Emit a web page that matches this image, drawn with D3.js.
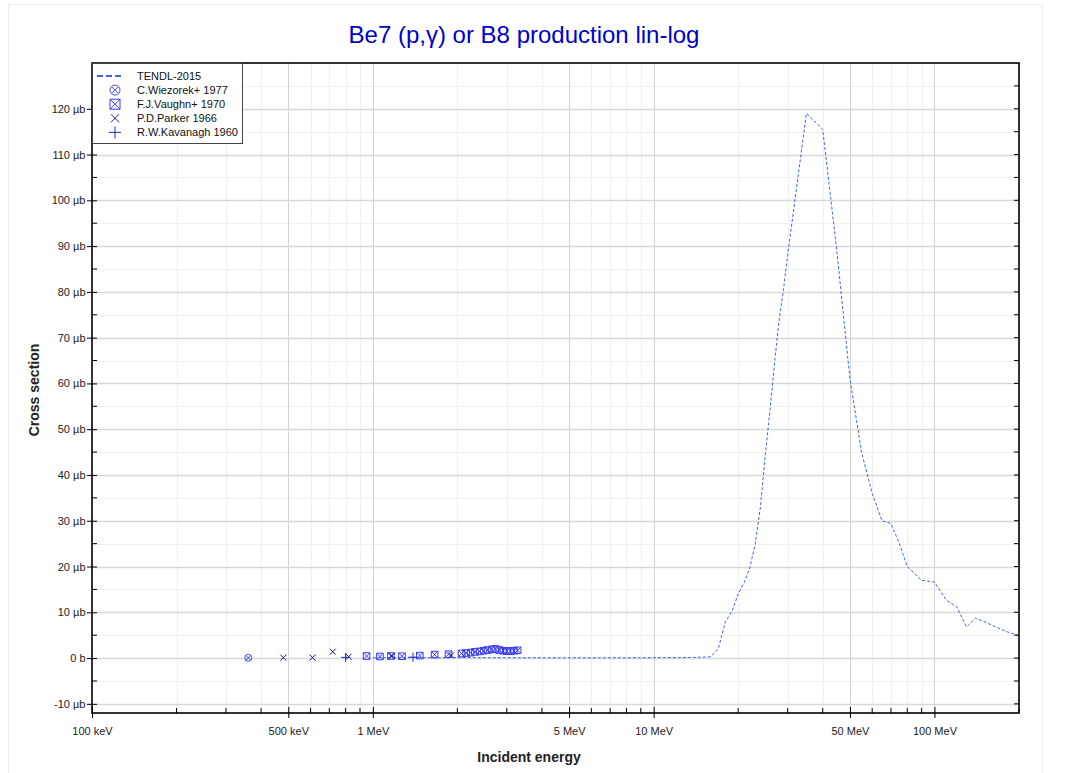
<!DOCTYPE html>
<html>
<head>
<meta charset="utf-8">
<script src="https://cdn.jsdelivr.net/npm/d3@7"></script>
<style>
    body { margin: 0; background: #fff; }
    text { font-family: Arial, "Liberation Sans", sans-serif; }
</style>
</head>
<body>
<script>
const svgWidth = 1067;
const svgHeight = 773;
const plotLeft = 92, plotRight = 1019, plotTop = 63, plotBottom = 713;

// TENDL-2015 evaluation (energy in MeV, cross section in µb)
const tendlEnergy = [1.0, 1.5, 2, 3, 4, 5, 6, 8, 10, 12, 14, 15, 16, 17, 18, 19, 20, 21, 22, 23, 24, 25, 26, 27, 28, 29, 30,
    35, 40, 45, 50, 55, 60, 65, 70, 75, 80, 90, 100, 110, 120, 130, 140, 150, 160, 180, 200];
const tendlXs = [0.08, 0.1, 0.1, 0.08, 0.07, 0.06, 0.06, 0.06, 0.08, 0.1, 0.15, 0.2, 0.3, 2.1, 7.9, 10.2, 14.0, 16.5, 19.7, 25.0, 33.0, 44.5, 54.5, 65.0, 74.0, 80.5, 88.0,
    119.0, 115.5, 88.5, 61.0, 45.0, 36.0, 30.0, 29.4, 25.0, 20.0, 17.0, 16.6, 12.7, 11.2, 6.8, 8.7, 8.0, 7.2, 5.8, 4.9];

// experimental points
const wiezorekEnergy = [0.36];
const wiezorekXs = [0.05];

const vaughnEnergy = [0.95, 1.06, 1.16, 1.27, 1.47, 1.66, 1.86, 2.07, 2.15, 2.23, 2.31, 2.40, 2.48, 2.56, 2.65, 2.73, 2.82, 2.91, 3.00, 3.09, 3.18, 3.28];
const vaughnXs = [0.45, 0.35, 0.45, 0.4, 0.55, 0.75, 0.85, 1.0, 1.1, 1.2, 1.35, 1.45, 1.6, 1.75, 1.9, 2.0, 1.75, 1.6, 1.5, 1.55, 1.6, 1.7];

const parkerEnergy = [0.48, 0.61, 0.72, 0.82, 1.17, 1.90];
const parkerXs = [0.1, 0.1, 1.4, 0.3, 0.5, 0.6];

const kavanaghEnergy = [0.80, 1.39];
const kavanaghXs = [0.15, 0.2];

// axis ticks
const xTickValues = [0.1, 0.5, 1, 5, 10, 50, 100];
const xTickLabels = ["100 keV", "500 keV", "1 MeV", "5 MeV", "10 MeV", "50 MeV", "100 MeV"];
const yTickValues = [-10, 0, 10, 20, 30, 40, 50, 60, 70, 80, 90, 100, 110, 120];
const yTickLabels = ["-10 µb", "0 b", "10 µb", "20 µb", "30 µb", "40 µb", "50 µb", "60 µb", "70 µb", "80 µb", "90 µb", "100 µb", "110 µb", "120 µb"];

const legendLabels = ["TENDL-2015", "C.Wiezorek+ 1977", "F.J.Vaughn+ 1970", "P.D.Parker 1966", "R.W.Kavanagh 1960"];

const tendlColor = "#3f64e6";
const wiezorekColor = "#4b4bff";
const vaughnColor = "#3a3af0";
const parkerColor = "#14148c";
const kavanaghColor = "#2323c8";

const svg = d3.select("body").append("svg").attr("width", svgWidth).attr("height", svgHeight);

svg.append("rect")
    .attr("x", 8.5).attr("y", 4.5)
    .attr("width", 1034).attr("height", 780)
    .attr("fill", "#fff")
    .attr("stroke", "#eeeeee");

const x = d3.scaleLog().domain([0.1, 200]).range([plotLeft, plotRight]);
const y = d3.scaleLinear().domain([-12, 130]).range([plotBottom, plotTop]);

// every 1..9 step of each decade
const xAllTicks = [];
[0.1, 1, 10, 100].forEach(function (decade) {
    for (let k = 1; k <= 9; k++) {
        const v = +(k * decade).toPrecision(3);
        if (v <= 200) xAllTicks.push(v);
    }
});
const isMajorX = v => xTickValues.some(t => Math.abs(t - v) < 1e-9);
const xMinorTicks = xAllTicks.filter(v => !isMajorX(v));
const yMinorTicks = d3.range(-10, 130, 5).filter(v => v % 10 !== 0);

// grid
const grid = svg.append("g");
grid.selectAll(".xminor").data(xMinorTicks).join("line")
    .attr("x1", d => Math.round(x(d)) + 0.5).attr("x2", d => Math.round(x(d)) + 0.5)
    .attr("y1", plotTop).attr("y2", plotBottom)
    .attr("stroke", "#f0f0f0");
grid.selectAll(".yminor").data(yMinorTicks).join("line")
    .attr("x1", plotLeft).attr("x2", plotRight)
    .attr("y1", d => Math.round(y(d)) + 0.5).attr("y2", d => Math.round(y(d)) + 0.5)
    .attr("stroke", "#f0f0f0");
grid.selectAll(".xmajor").data(xTickValues.slice(1)).join("line")
    .attr("x1", d => Math.round(x(d)) + 0.5).attr("x2", d => Math.round(x(d)) + 0.5)
    .attr("y1", plotTop).attr("y2", plotBottom)
    .attr("stroke", "#d2d2d2");
grid.selectAll(".ymajor").data(yTickValues).join("line")
    .attr("x1", plotLeft).attr("x2", plotRight)
    .attr("y1", d => Math.round(y(d)) + 0.5).attr("y2", d => Math.round(y(d)) + 0.5)
    .attr("stroke", "#d8d8d8")
    .attr("stroke-width", 1.5);

svg.append("clipPath").attr("id", "plot-clip")
    .append("rect")
    .attr("x", plotLeft).attr("y", plotTop)
    .attr("width", plotRight - plotLeft).attr("height", plotBottom - plotTop);

const plot = svg.append("g").attr("clip-path", "url(#plot-clip)");

// evaluated curve
const tendl = tendlEnergy.map((e, i) => [e, tendlXs[i]]);
plot.append("path")
    .datum(tendl)
    .attr("d", d3.line().x(d => x(d[0])).y(d => y(d[1])))
    .attr("fill", "none")
    .attr("stroke", tendlColor)
    .attr("stroke-width", 1)
    .attr("stroke-dasharray", "3,2");

// marker shapes
function circleX(cx, cy, r) {
    const k = r * 0.7071;
    return `M${cx + r},${cy}A${r},${r} 0 1,1 ${cx - r},${cy}A${r},${r} 0 1,1 ${cx + r},${cy}` +
        `M${cx - k},${cy - k}L${cx + k},${cy + k}M${cx - k},${cy + k}L${cx + k},${cy - k}`;
}
function boxX(cx, cy, r) {
    return `M${cx - r},${cy - r}h${2 * r}v${2 * r}h${-2 * r}Z` +
        `M${cx - r},${cy - r}L${cx + r},${cy + r}M${cx - r},${cy + r}L${cx + r},${cy - r}`;
}
function cross(cx, cy, r) {
    return `M${cx - r},${cy - r}L${cx + r},${cy + r}M${cx - r},${cy + r}L${cx + r},${cy - r}`;
}
function plus(cx, cy, r) {
    return `M${cx - r},${cy}L${cx + r},${cy}M${cx},${cy - r}L${cx},${cy + r}`;
}

function drawPoints(energy, xs, shape, size, color) {
    plot.append("g").selectAll("path")
        .data(energy.map((e, i) => [e, xs[i]]))
        .join("path")
        .attr("d", d => shape(x(d[0]), y(d[1]), size))
        .attr("fill", "none")
        .attr("stroke", color)
        .attr("stroke-width", 1);
}

drawPoints(vaughnEnergy, vaughnXs, boxX, 3.3, vaughnColor);
drawPoints(wiezorekEnergy, wiezorekXs, circleX, 3.5, wiezorekColor);
drawPoints(parkerEnergy, parkerXs, cross, 3, parkerColor);
drawPoints(kavanaghEnergy, kavanaghXs, plus, 4.5, kavanaghColor);

// axes
const xAxis = svg.append("g")
    .attr("transform", `translate(0,${plotBottom})`)
    .call(d3.axisBottom(x).tickValues(xTickValues).tickFormat((d, i) => xTickLabels[i]).tickSize(5).tickPadding(9));
xAxis.select(".domain").remove();
xAxis.selectAll(".tick line").attr("y1", -6).attr("y2", 5).attr("stroke", "#000");
xAxis.selectAll("text").attr("font-size", 11).attr("fill", "#222");

const yAxis = svg.append("g")
    .attr("transform", `translate(${plotLeft},0)`)
    .call(d3.axisLeft(y).tickValues(yTickValues).tickFormat((d, i) => yTickLabels[i]).tickSize(5).tickPadding(1.5));
yAxis.select(".domain").remove();
yAxis.selectAll(".tick line").attr("x1", 5).attr("x2", -5).attr("stroke", "#000");
yAxis.selectAll("text").attr("font-size", 11).attr("fill", "#222");

const minorTicks = svg.append("g").attr("stroke", "#000");
minorTicks.selectAll(".xm").data(xMinorTicks).join("line")
    .attr("x1", d => x(d)).attr("x2", d => x(d))
    .attr("y1", plotBottom).attr("y2", plotBottom - 5);
minorTicks.selectAll(".ym").data(yMinorTicks).join("line")
    .attr("x1", plotLeft).attr("x2", plotLeft + 5)
    .attr("y1", d => y(d)).attr("y2", d => y(d));
minorTicks.selectAll(".yr").data(yMinorTicks.concat(yTickValues)).join("line")
    .attr("x1", plotRight).attr("x2", plotRight - 5)
    .attr("y1", d => y(d)).attr("y2", d => y(d));

svg.append("rect")
    .attr("x", plotLeft).attr("y", plotTop)
    .attr("width", plotRight - plotLeft).attr("height", plotBottom - plotTop)
    .attr("fill", "none")
    .attr("stroke", "#000")
    .attr("stroke-width", 1.6);

// titles
svg.append("text")
    .attr("x", 524).attr("y", 43)
    .attr("text-anchor", "middle")
    .attr("font-size", 24)
    .attr("fill", "#0000cc")
    .text("Be7 (p,γ) or B8 production lin-log");

svg.append("text")
    .attr("x", 529).attr("y", 762)
    .attr("text-anchor", "middle")
    .attr("font-size", 14)
    .attr("font-weight", "bold")
    .attr("fill", "#222")
    .text("Incident energy");

svg.append("text")
    .attr("transform", "translate(39,390) rotate(-90)")
    .attr("text-anchor", "middle")
    .attr("font-size", 14)
    .attr("font-weight", "bold")
    .attr("fill", "#222")
    .text("Cross section");

// legend
const legend = svg.append("g");
legend.append("rect")
    .attr("x", plotLeft + 0.5).attr("y", plotTop + 0.5)
    .attr("width", 150).attr("height", 80)
    .attr("fill", "#fff")
    .attr("stroke", "#444");

const legendY = i => 76 + i * 14.1;
legend.append("line")
    .attr("x1", 97).attr("x2", 123)
    .attr("y1", legendY(0)).attr("y2", legendY(0))
    .attr("stroke", tendlColor)
    .attr("stroke-width", 2)
    .attr("stroke-dasharray", "6,3");

const legendShapes = [[circleX, 5, wiezorekColor], [boxX, 5, vaughnColor], [cross, 4, parkerColor], [plus, 6, kavanaghColor]];
legendShapes.forEach(function (s, i) {
    legend.append("path")
        .attr("d", s[0](115, legendY(i + 1), s[1]))
        .attr("fill", "none")
        .attr("stroke", s[2])
        .attr("stroke-width", 1);
});

legend.selectAll("text").data(legendLabels).join("text")
    .attr("x", 137)
    .attr("y", (d, i) => legendY(i) + 4)
    .attr("font-size", 11)
    .attr("fill", "#111")
    .text(d => d);
</script>
</body>
</html>
